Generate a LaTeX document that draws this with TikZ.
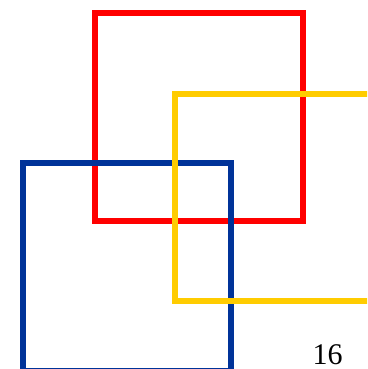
\documentclass[tikz,border=0pt]{standalone}
\usepackage{fontspec}
\setmainfont{Liberation Serif}
\definecolor{sqred}{RGB}{255,0,0}
\definecolor{sqyellow}{RGB}{255,204,0}
\definecolor{sqblue}{RGB}{0,51,153}
\begin{document}
\begin{tikzpicture}[x=1pt,y=-1pt,
  sq/.style={line width=6pt,line join=miter}]
\useasboundingbox (0,0) rectangle (367,369);
\begin{scope}
\clip (0,0) rectangle (367,369);
\draw[sq,sqred] (95,13.5) rectangle (303,221);
\draw[sq,sqblue] (23,163) rectangle (231,371);
\draw[sq,sqyellow] (175,93.5) rectangle (383,301);
\end{scope}
\node[font=\fontsize{30}{36}\selectfont,anchor=base,inner sep=0pt] (num) at (327.5,364) {16};
\end{tikzpicture}
\end{document}
